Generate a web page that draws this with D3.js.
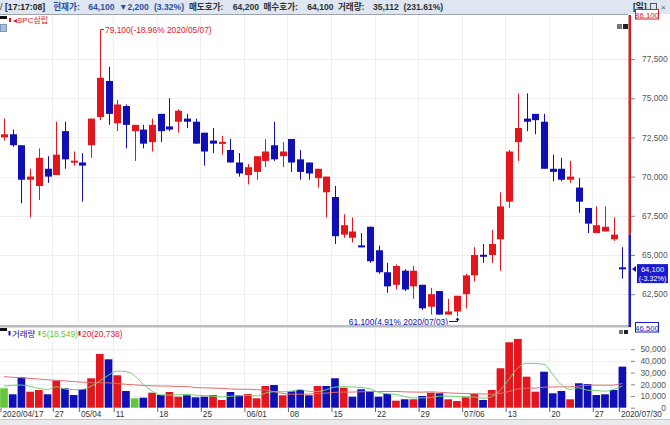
<!DOCTYPE html>
<html><head><meta charset="utf-8">
<script src="https://cdn.jsdelivr.net/npm/d3@7"></script>
<style>
html,body{margin:0;padding:0;background:#fff;overflow:hidden;}
svg{display:block;}
text{font-family:"Liberation Sans","Noto Sans CJK KR",sans-serif;}
</style></head><body>
<svg id="c" width="670" height="425"></svg>
<script>
// ---------- data ----------
const dates = ["2020/04/17","2020/04/20","2020/04/21","2020/04/22","2020/04/23","2020/04/24","2020/04/27","2020/04/28","2020/04/29",
"2020/05/04","2020/05/06","2020/05/07","2020/05/08","2020/05/11","2020/05/12","2020/05/13","2020/05/14","2020/05/15",
"2020/05/18","2020/05/19","2020/05/20","2020/05/21","2020/05/22","2020/05/25","2020/05/26","2020/05/27","2020/05/28","2020/05/29",
"2020/06/01","2020/06/02","2020/06/03","2020/06/04","2020/06/05","2020/06/08","2020/06/09","2020/06/10","2020/06/11","2020/06/12",
"2020/06/15","2020/06/16","2020/06/17","2020/06/18","2020/06/19","2020/06/22","2020/06/23","2020/06/24","2020/06/25","2020/06/26",
"2020/06/29","2020/06/30","2020/07/01","2020/07/02","2020/07/03","2020/07/06","2020/07/07","2020/07/08","2020/07/09","2020/07/10",
"2020/07/13","2020/07/14","2020/07/15","2020/07/16","2020/07/17","2020/07/20","2020/07/21","2020/07/22","2020/07/23","2020/07/24",
"2020/07/27","2020/07/28","2020/07/29","2020/07/30"];
const opens = [72500,72700,72000,69800,69400,70500,70100,72900,70900,70900,72000,73800,76100,73400,74500,72900,73000,72200,74000,73200,
73500,73700,73500,72800,72300,72100,71700,70900,70100,70300,71000,72000,71300,72400,71100,70900,69900,69000,68700,66300,
66100,65600,66800,65300,63900,63100,64000,63000,63100,61700,62700,61200,61400,62500,63700,65000,65000,66000,68400,72200,
73700,74000,73500,70500,70500,69800,69300,68000,66400,66500,66000,64200];
const highs = [73700,73000,72000,70500,71800,71300,73500,73500,71600,71500,73700,79100,77000,74900,74600,73300,73300,73700,74000,75000,
74300,74000,73700,72800,73100,72600,72400,71500,70800,71300,72400,73500,72200,72400,71700,70900,70500,70000,69400,67600,
67400,66400,66800,65600,64500,64400,64100,64300,63100,62900,62700,62200,62400,63800,65500,65700,66600,69000,71700,75300,
75300,74000,74000,71400,71200,71000,69900,68000,68100,68100,67400,65500];
const lows = [72300,71900,68300,67400,68500,69600,70100,70500,70700,68400,71200,73600,73300,72900,71800,71000,71800,71600,72200,72900,
72800,73100,72100,70700,71500,71400,70900,70000,69500,69800,70600,71000,70600,70300,69800,69800,69300,67400,65700,66100,
65800,65500,64500,63800,62600,62800,62700,62200,61500,61200,61200,61200,61100,61600,63300,64500,64500,64000,68000,71000,
72900,72700,70500,69700,69700,69600,67700,66400,66400,66500,65900,63500];
const closes = [72700,72000,69800,70000,71200,70000,71400,71100,71000,70700,73700,76300,74000,74600,73300,73300,72100,73300,72900,73000,
74200,73500,72100,71600,72100,72200,70900,70200,70600,71300,71600,71100,71600,70900,70300,70200,70500,70000,66200,66900,
66500,65500,64600,63900,63000,64300,62800,64000,61600,62500,61200,61400,62400,63700,65000,64900,65700,68100,71600,73100,
73500,73600,70500,70300,69800,70000,68400,67000,66900,66800,66300,64100];
const volumes = [16600,11460,26000,13680,15130,11460,23090,16590,10860,15990,25140,45910,41380,27700,14280,8040,8550,12830,10860,13420,
9410,10600,8890,9410,10860,6580,13420,10600,11710,8040,18550,19410,10600,14020,15130,10600,18550,18550,25140,17100,
9410,15730,13680,9410,11710,5990,7180,7180,10000,12830,12310,7180,5730,8890,11710,6580,15130,33690,55900,58800,
26510,13680,30765,12310,14280,7180,20860,20200,10843,11460,15130,35112];
const priorClose = 72700;           // close of the day before the first candle
const ma5Head = [18500,19100,19400,18300];   // (needs earlier days)
const ma20Head = [26500,26000,25600,25000,24500,23900,23400,22900,22300,21800,21400,21300,21200,20600,20000,19500,19000,18700,18500];
const priceTicks = [62500,65000,67500,70000,72500,75000,77500];
const volTicks = [0,10000,20000,30000,40000,50000];
const xTickDates = ["2020/04/17","2020/04/27","2020/05/04","2020/05/11","2020/05/18","2020/05/25","2020/06/01","2020/06/08",
"2020/06/15","2020/06/22","2020/06/29","2020/07/06","2020/07/13","2020/07/20","2020/07/27","2020/07/30"];
const xTickLabels = ["2020/04/17","27","05/04","11","18","25","06/01","08","15","22","29","07/06","13","20","27","2020/07/30"];
const stockName = "SPC삼립";
const upperLimit = 86100, lowerLimit = 46500, prevClose = 66300, curPrice = 64100, curPct = "-3.32%";
const hiNote = "79,100(-18.96% 2020/05/07)", loNote = "61,100(4.91% 2020/07/03)";

// ---------- setup ----------
const RED="#e3161e", BLUE="#0f0fb4", GREEN="#66c63a";
const svg = d3.select("#c");
const plotR = 628;
const n = dates.length;
const x = d3.scalePoint().domain(dates).range([4, 622.4]);
const xEdge = d3.scalePoint().domain(dates).range([0, 618.4]);
const y = d3.scaleLinear().domain([62500, 77500]).range([294.2, 59]);
const yv = d3.scaleLinear().domain([0, 50000]).range([407.7, 349.2]);

svg.append("rect").attr("width",670).attr("height",425).attr("fill","#fff");

// header
svg.append("rect").attr("x",0).attr("y",0).attr("width",670).attr("height",14).attr("fill","#dde6f1");
svg.append("line").attr("x1",0).attr("x2",plotR).attr("y1",14.5).attr("y2",14.5).attr("stroke","#9ea3aa");
const hdr = svg.append("g").attr("font-size",8.6).attr("font-weight","bold");
const u = 4.38;
const hdrItems = [
  ["[17:17:08]",0,"#222"],["현재가:",11,"#2d4f9e"],["64,100",19,"#2d4f9e"],["▼2,200",26,"#2d4f9e"],["(3.32%)",34,"#2d4f9e"],
  ["매도호가:",42,"#333"],["64,200",52,"#333"],["매수호가:",59,"#333"],["64,100",69,"#333"],
  ["거래량:",76,"#333"],["35,112",84,"#333"],["(231.61%)",91,"#333"]
];
hdr.selectAll("text").data(hdrItems).join("text")
  .attr("x",d=>5+d[1]*u).attr("y",10).attr("fill",d=>d[2]).text(d=>d[0]);
hdr.append("text").attr("x",633).attr("y",10).attr("fill","#222").text("[일]");
svg.append("rect").attr("x",650.5).attr("y",3.5).attr("width",6).attr("height",6).attr("fill","none").attr("stroke","#555");
svg.append("text").attr("x",661).attr("y",10).attr("font-size",8).attr("fill","#555").text("×");
svg.append("text").attr("x",0).attr("y",10).attr("font-size",9).attr("fill","#333").text("/");

// grid
const grid = svg.append("g").attr("stroke","#eceef2").attr("stroke-width",1);
priceTicks.forEach(p=>grid.append("line").attr("x1",0).attr("x2",plotR).attr("y1",Math.round(y(p))+0.5).attr("y2",Math.round(y(p))+0.5));
xTickDates.slice(1,-1).forEach(d=>{
  const gx = Math.round(xEdge(d))+0.5;
  grid.append("line").attr("x1",gx).attr("x2",gx).attr("y1",15).attr("y2",325);
  grid.append("line").attr("x1",gx).attr("x2",gx).attr("y1",328).attr("y2",408);
});
volTicks.slice(1).forEach(v=>grid.append("line").attr("x1",0).attr("x2",plotR).attr("y1",Math.round(yv(v))+0.5).attr("y2",Math.round(yv(v))+0.5));

// candles
const cand = svg.append("g");
const idx = d3.range(n);
const cColor = i => closes[i] > opens[i] ? RED : BLUE;
cand.selectAll("line").data(idx).join("line")
  .attr("x1",i=>Math.round(x(dates[i]))+0.5).attr("x2",i=>Math.round(x(dates[i]))+0.5)
  .attr("y1",i=>y(highs[i])).attr("y2",i=>y(lows[i]))
  .attr("stroke",cColor).attr("stroke-width",1);
cand.selectAll("rect").data(idx).join("rect")
  .attr("x",i=>Math.round(x(dates[i]))-3).attr("width",7)
  .attr("y",i=>{const a=y(opens[i]),b=y(closes[i]);const h=Math.max(2,Math.abs(a-b));return Math.min(a,b)-(h-Math.abs(a-b))/2;})
  .attr("height",i=>Math.max(2,Math.abs(y(opens[i])-y(closes[i]))))
  .attr("fill",cColor);

// annotations
const hiI = dates.indexOf("2020/05/07"), loI = dates.indexOf("2020/07/03");
const hx = Math.round(x(dates[hiI]))+0.5;
svg.append("path").attr("d",`M${hx},${y(highs[hiI])}V29.5H104`).attr("fill","none").attr("stroke",RED);
svg.append("text").attr("x",105).attr("y",32.5).attr("font-size",8.4).attr("fill",RED).text(hiNote);
const lx = Math.round(x(dates[loI]))+0.5;
svg.append("path").attr("d",`M449,321.5H${lx}V${y(lows[loI])+2}`).attr("fill","none").attr("stroke",BLUE);
svg.append("path").attr("d",`M${lx-2},${y(lows[loI])+4}L${lx},${y(lows[loI])+1}L${lx+2},${y(lows[loI])+4}Z`).attr("fill",BLUE);
svg.append("text").attr("x",448).attr("y",324.5).attr("text-anchor","end").attr("font-size",8.4).attr("fill",BLUE).text(loNote);

// legend top-left
svg.append("rect").attr("x",0).attr("y",16).attr("width",7).attr("height",3).attr("fill","#111");
svg.append("rect").attr("x",9).attr("y",18).attr("width",2).attr("height",4).attr("fill",RED);
svg.append("text").attr("x",13).attr("y",23).attr("font-size",8).attr("fill",RED).text("◂"+stockName);
svg.append("rect").attr("x",0.5).attr("y",24.5).attr("width",6).attr("height",7).attr("fill","#a9bfdc").attr("stroke","#7f98bb");
svg.append("rect").attr("x",617).attr("y",24).attr("width",5).attr("height",5).attr("fill","#777");
svg.append("rect").attr("x",623).attr("y",24).attr("width",5).attr("height",5).attr("fill","#222");

// panel separator
svg.append("rect").attr("x",0).attr("y",325).attr("width",plotR+2).attr("height",2.5).attr("fill","#b9bcc0");

// volume bars
const vColor = i => { const pc = i===0 ? priorClose : closes[i-1]; return closes[i]>pc?RED:(closes[i]<pc?BLUE:GREEN); };
svg.append("g").selectAll("rect").data(idx).join("rect")
  .attr("x",i=>x(dates[i])-3.85).attr("width",7.7)
  .attr("y",i=>yv(volumes[i])).attr("height",i=>yv(0)-yv(volumes[i]))
  .attr("fill",vColor);

// moving averages
const ma5 = idx.map(i => i<4 ? ma5Head[i] : d3.mean(volumes.slice(i-4,i+1)));
const ma20 = idx.map(i => i<19 ? ma20Head[i] : d3.mean(volumes.slice(i-19,i+1)));
const line = d3.line().x((v,i)=>x(dates[i])).y(v=>yv(v)).curve(d3.curveMonotoneX);
svg.append("path").attr("d",line(ma20)).attr("fill","none").attr("stroke","#e36a6a").attr("stroke-width",1);
svg.append("path").attr("d",line(ma5)).attr("fill","none").attr("stroke","#72d072").attr("stroke-width",1);

// volume legend
svg.append("rect").attr("x",0).attr("y",328).attr("width",7).attr("height",3).attr("fill","#111");
const vl = svg.append("g").attr("font-size",8.4);
vl.append("rect").attr("x",8.5).attr("y",331).attr("width",2).attr("height",4.5).attr("fill",BLUE);
vl.append("text").attr("x",12).attr("y",336.5).attr("fill",BLUE).text("거래량");
vl.append("rect").attr("x",38.5).attr("y",331).attr("width",2).attr("height",4.5).attr("fill",GREEN);
vl.append("text").attr("x",42).attr("y",336.5).attr("fill",GREEN).text("5("+d3.format(",")(Math.round(ma5[n-1]))+")");
vl.append("rect").attr("x",78.5).attr("y",331).attr("width",2).attr("height",4.5).attr("fill",RED);
vl.append("text").attr("x",82).attr("y",336.5).attr("fill",RED).text("20("+d3.format(",")(Math.round(ma20[n-1]))+")");
svg.append("rect").attr("x",619).attr("y",330).attr("width",4).attr("height",4).attr("fill","#777");
svg.append("rect").attr("x",624).attr("y",330).attr("width",4).attr("height",4).attr("fill","#222");

// right price axis bar
svg.append("rect").attr("x",628.5).attr("y",15).attr("width",2.5).attr("height",y(prevClose)-15).attr("fill","#d42020");
svg.append("rect").attr("x",628.5).attr("y",y(prevClose)).attr("width",2.5).attr("height",327-y(prevClose)).attr("fill","#1b1bbf");

const pAxis = svg.append("g").attr("transform","translate(631,0)")
  .call(d3.axisRight(y).tickValues(priceTicks).tickSize(4).tickPadding(7).tickFormat(d3.format(",")));
pAxis.select(".domain").remove();
pAxis.selectAll("line").attr("stroke","#888");
pAxis.selectAll("text").attr("font-size",8.4).attr("fill","#555").attr("font-family","Liberation Sans");

const vAxis = svg.append("g").attr("transform","translate(631,0)")
  .call(d3.axisRight(yv).tickValues(volTicks.slice().reverse()).tickSize(4).tickFormat(d3.format(",")));
vAxis.select(".domain").remove();
vAxis.selectAll("line").attr("stroke","#888");
vAxis.selectAll("text").attr("x",35).attr("text-anchor","end").attr("font-size",8.4).attr("fill","#555").attr("font-family","Liberation Sans");

// limit boxes
function box(val,yTop,col){
  svg.append("rect").attr("x",635.5).attr("y",yTop+0.5).attr("width",23).attr("height",9.5).attr("fill","#fff").attr("stroke",col);
  svg.append("text").attr("x",647).attr("y",yTop+8.5).attr("text-anchor","middle").attr("font-size",7.8).attr("fill",col).text(d3.format(",")(val));
}
box(upperLimit,9,"#d42020");
box(lowerLimit,322,"#1b1bbf");

// current price tag
const cy = y(curPrice);
svg.append("path").attr("d",`M632,${cy}L636,${cy-3}L636,${cy+3}Z`).attr("fill",BLUE);
svg.append("rect").attr("x",637).attr("y",cy-5).attr("width",31).attr("height",19).attr("fill","#1a1ad0");
svg.append("text").attr("x",652.5).attr("y",cy+3).attr("text-anchor","middle").attr("font-size",7.6).attr("fill","#fff").text(d3.format(",")(curPrice));
svg.append("text").attr("x",652.5).attr("y",cy+12).attr("text-anchor","middle").attr("font-size",7.2).attr("fill","#fff").text("("+curPct+")");

// x axis
const xa = svg.append("g").attr("transform","translate(0,408)")
  .call(d3.axisBottom(xEdge).tickValues(xTickDates).tickSize(4).tickFormat(d=>xTickLabels[xTickDates.indexOf(d)]));
xa.select(".domain").remove();
xa.selectAll("line").attr("stroke","#666").attr("transform","translate(0.5,0)");
xa.selectAll("text").attr("text-anchor","start").attr("x",2).attr("y",3).attr("dy","0.71em")
  .attr("font-size",8.2).attr("fill","#333").attr("font-family","Liberation Sans");

// bottom strip
svg.append("rect").attr("x",0).attr("y",419).attr("width",670).attr("height",6).attr("fill","#e9eaec");
svg.append("line").attr("x1",0).attr("x2",670).attr("y1",419.5).attr("y2",419.5).attr("stroke","#c8c8c8");
</script>
</body></html>
